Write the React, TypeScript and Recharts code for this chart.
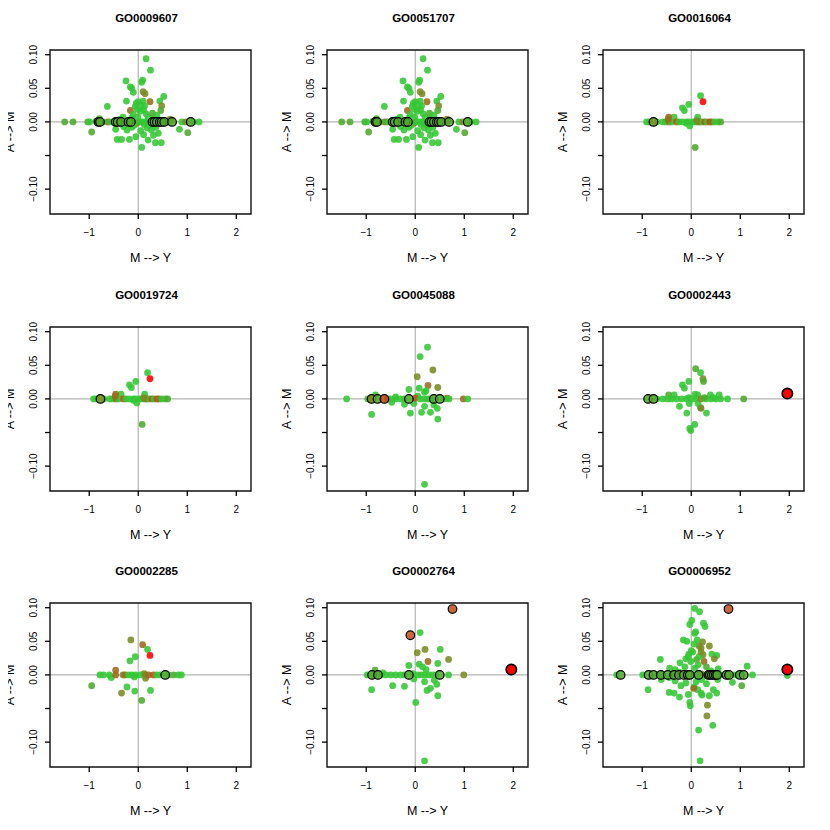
import React from 'react';
import { ScatterChart, Scatter, XAxis, YAxis, ReferenceLine, ReferenceArea } from 'recharts';

type Pt = [number, number, string];

const xTicks = [-1, 0, 1, 2];
const yTicks = [-0.1, -0.05, 0, 0.05, 0.1];
const xDomain = [-1.8, 2.3];
const yDomain = [-0.137, 0.107];

// panels 1 & 2
const dotsA: Pt[] = [
  [0.16, 0.094, 'g'], [0.25, 0.077, 'g'], [-0.25, 0.061, 'g'], [0.09, 0.062, 'g'], [0.07, 0.059, 'g'],
  [-0.16, 0.052, 'g'], [-0.13, 0.05, 'g'], [-0.1, 0.044, 'g'], [0.1, 0.045, 'o'], [0.14, 0.042, 'o'],
  [0.52, 0.038, 'g'], [-0.24, 0.031, 'g'], [-0.04, 0.028, 'g'], [0.0, 0.03, 'g'], [0.1, 0.031, 'g'],
  [0.24, 0.03, 'b'], [0.44, 0.031, 'g'], [0.48, 0.024, 'o'], [0.46, 0.017, 'l'], [-0.16, 0.017, 'b'],
  [-0.63, 0.023, 'g'], [-0.06, 0.023, 'g'], [0.04, 0.016, 'g'], [0.11, 0.018, 'g'], [0.16, 0.012, 'g'],
  [-0.1, 0.011, 'g'], [-0.01, 0.007, 'g'], [0.2, 0.007, 'g'], [-0.31, 0.007, 'g'], [-0.37, 0.004, 'g'],
  [-0.13, 0.006, 'g'], [0.3, 0.005, 'g'], [0.65, 0.004, 'o'], [0.29, 0.013, 'l'], [0.38, 0.01, 'g'],
  [-0.79, 0.005, 'l'], [0.06, 0.025, 'g'], [-0.02, 0.019, 'g'], [0.13, 0.024, 'g'],
  [-0.95, -0.015, 'l'], [-0.46, -0.011, 'g'], [-0.23, -0.012, 'g'], [-0.43, -0.026, 'g'], [-0.34, -0.026, 'g'],
  [-0.18, -0.026, 'g'], [-0.05, -0.022, 'g'], [0.07, -0.038, 'g'], [0.11, -0.019, 'g'], [0.2, -0.027, 'g'],
  [0.31, -0.02, 'g'], [0.35, -0.031, 'g'], [0.47, -0.031, 'g'], [0.41, -0.017, 'g'], [0.84, -0.011, 'g'],
  [1.01, -0.016, 'l'], [0.18, -0.009, 'g'], [0.05, -0.013, 'g'], [0.27, -0.012, 'g'], [0.36, -0.008, 'g'],
  [-0.13, -0.008, 'g'], [-0.3, -0.007, 'g'], [0.12, -0.004, 'g'], [-0.03, -0.002, 'r'], [-0.08, -0.005, 'g'],
  [0.24, -0.005, 'g'],
  [-1.5, 0, 'l'], [-1.33, 0, 'l'], [-1.03, 0, 'l'], [-0.99, 0, 'g'], [-0.62, 0, 'r'], [0.89, 0, 'g'],
  [0.97, 0, 'o'], [1.24, 0, 'g'], [1.13, 0, 'g'], [0.14, 0, 'g'], [0.04, 0, 'g'], [0.21, 0, 'g'],
  [-0.57, 0, 'g'], [-0.71, 0, 'g'], [-0.27, 0, 'g'], [-0.09, 0, 'g'], [0.08, 0, 'g'], [0.6, 0, 'g'],
  [0.67, 0.002, 'b'], [-0.86, 0.001, 'l'],
];
const ringsA: Pt[] = [
  [-0.81, 0, 'l'], [-0.78, 0, 'l'], [-0.46, 0, 'l'], [-0.42, 0, 'l'], [-0.35, 0, 'l'], [-0.2, 0, 'l'],
  [-0.15, 0, 'l'], [0.29, 0, 'l'], [0.33, 0, 'l'], [0.38, 0, 'l'], [0.44, 0, 'l'], [0.48, 0, 'l'],
  [0.53, 0, 'l'], [0.69, 0, 'l'], [1.07, 0, 'l'],
];

// panels 3 & 4
const dotsB: Pt[] = [
  [0.19, 0.039, 'g'], [0.24, 0.03, 'R'], [-0.05, 0.026, 'g'], [-0.18, 0.021, 'g'], [-0.14, 0.017, 'g'],
  [-0.35, 0.007, 'g'], [-0.46, 0.007, 'b'], [0.13, 0.007, 'g'], [0.08, -0.038, 'l'], [-0.03, -0.006, 'g'],
  [-0.1, -0.002, 'g'],
  [-0.91, 0, 'g'], [-0.85, 0, 'g'], [-0.7, 0, 'g'], [-0.58, 0, 'g'], [-0.52, 0, 'g'], [-0.45, 0, 'b'],
  [-0.4, 0, 'g'], [-0.3, 0, 'r'], [-0.25, 0, 'g'], [-0.18, 0, 'g'], [-0.1, 0, 'g'], [-0.05, 0, 'g'],
  [0.02, 0, 'g'], [0.08, 0, 'g'], [0.14, 0, 'o'], [0.18, 0, 'b'], [0.22, 0, 'g'], [0.28, 0, 'r'],
  [0.32, 0, 'g'], [0.38, 0, 'r'], [0.42, 0, 'b'], [0.48, 0, 'g'], [0.55, 0, 'g'], [0.6, 0, 'l'],
  [-0.47, 0.004, 'b'], [0.11, 0.002, 'o'],
];
const ringsB: Pt[] = [[-0.77, 0, 'o']];

// panel 5
const dotsC: Pt[] = [
  [0.25, 0.077, 'g'], [0.1, 0.063, 'g'], [0.36, 0.043, 'o'], [0.04, 0.033, 'o'], [0.26, 0.02, 'b'],
  [0.08, 0.016, 'g'], [0.46, 0.017, 'o'], [-0.13, 0.014, 'g'], [0.19, 0.01, 'g'], [0.22, 0.012, 'g'],
  [-0.81, 0.006, 'g'], [-0.4, 0.003, 'g'], [-0.89, -0.023, 'g'], [-0.1, -0.021, 'g'], [0.13, -0.02, 'g'],
  [0.31, -0.02, 'g'], [0.45, -0.014, 'g'], [0.19, -0.011, 'g'], [0.38, -0.009, 'g'], [0.46, -0.03, 'g'],
  [0.19, -0.127, 'g'], [-0.22, -0.008, 'g'], [-0.48, -0.005, 'g'], [-0.03, -0.007, 'g'], [0.35, -0.002, 'g'],
  [0.05, 0.004, 'g'],
  [-1.4, 0, 'g'], [-0.97, 0, 'g'], [-0.93, 0, 'b'], [-0.57, 0, 'r'], [-0.5, 0, 'g'], [-0.4, 0, 'g'],
  [-0.3, 0, 'g'], [-0.22, 0, 'g'], [0.0, 0.001, 'r'], [0.1, 0, 'g'], [0.18, 0, 'g'], [0.25, 0, 'g'],
  [0.3, 0, 'g'], [0.65, 0.001, 'b'], [0.98, 0, 'b'], [1.07, 0, 'g'], [0.69, 0, 'g'], [0.58, 0, 'g'],
];
const ringsC: Pt[] = [
  [-0.89, 0, 'o'], [-0.77, 0, 'l'], [-0.63, 0, 'r'], [-0.13, 0, 'l'], [0.38, 0, 'l'], [0.5, 0, 'l'],
];

// panel 6
const dotsD: Pt[] = [
  [0.09, 0.045, 'l'], [0.19, 0.039, 'g'], [0.24, 0.03, 'o'], [0.25, 0.026, 'l'], [-0.05, 0.026, 'g'],
  [-0.18, 0.021, 'g'], [-0.14, 0.016, 'g'], [-0.35, 0.006, 'g'], [-0.46, 0.006, 'l'], [0.13, 0.006, 'g'],
  [0.39, 0.006, 'g'], [0.57, 0.006, 'g'], [0.08, 0.007, 'g'], [-0.24, -0.011, 'g'], [-0.09, -0.021, 'g'],
  [0.31, -0.021, 'g'], [0.19, -0.013, 'l'], [0.07, -0.038, 'g'], [-0.01, -0.047, 'g'], [-0.03, -0.044, 'g'],
  [-0.04, -0.007, 'g'], [0.14, -0.007, 'g'], [0.2, -0.014, 'o'],
  [-0.58, 0, 'g'], [-0.48, 0, 'g'], [-0.4, 0, 'g'], [-0.3, 0, 'g'], [-0.2, 0, 'g'], [-0.1, 0, 'g'],
  [0.0, 0, 'g'], [0.1, 0, 'g'], [0.2, 0, 'o'], [0.3, 0, 'g'], [0.4, 0, 'g'], [0.5, 0, 'g'], [0.6, 0, 'g'],
  [0.74, 0, 'g'], [1.07, 0, 'l'], [-0.7, 0, 'g'], [0.27, 0.002, 'l'], [-0.05, 0.002, 'g'], [0.45, 0.002, 'g'],
];
const ringsD: Pt[] = [[-0.88, 0, 'l'], [-0.77, 0, 'l']];

// panel 7
const dotsE: Pt[] = [
  [-0.15, 0.052, 'o'], [0.09, 0.045, 'b'], [0.19, 0.038, 'g'], [0.24, 0.029, 'R'], [-0.06, 0.027, 'g'],
  [-0.17, 0.021, 'g'], [-0.46, 0.007, 'b'], [0.15, -0.005, 'o'], [-0.95, -0.016, 'l'], [-0.23, -0.018, 'g'],
  [-0.34, -0.027, 'o'], [-0.07, -0.024, 'g'], [0.25, -0.023, 'g'], [0.07, -0.038, 'l'], [-0.55, -0.004, 'g'],
  [-0.08, -0.003, 'g'], [0.12, 0.002, 'o'],
  [-0.78, 0, 'g'], [-0.71, 0, 'g'], [-0.59, 0, 'g'], [-0.46, 0, 'b'], [-0.31, 0, 'o'], [-0.27, 0, 'b'],
  [-0.2, 0, 'g'], [-0.13, 0, 'g'], [-0.06, 0, 'g'], [0.04, 0, 'g'], [0.14, 0, 'o'], [0.21, 0, 'b'],
  [0.31, 0, 'r'], [0.38, 0, 'g'], [0.72, 0, 'l'], [0.82, 0, 'g'], [0.88, 0, 'g'], [0.45, 0, 'g'], [0.62, 0, 'g'],
];
const ringsE: Pt[] = [[0.55, 0, 'l']];

// panel 8
const dotsF: Pt[] = [
  [0.1, 0.063, 'g'], [0.04, 0.033, 'o'], [0.2, 0.038, 'o'], [0.51, 0.038, 'g'], [0.26, 0.02, 'b'],
  [0.68, 0.023, 'o'], [0.08, 0.016, 'g'], [0.46, 0.017, 'g'], [-0.13, 0.014, 'g'], [0.22, 0.008, 'g'],
  [0.15, 0.012, 'g'], [-0.89, -0.022, 'g'], [-0.46, -0.016, 'g'], [-0.22, -0.017, 'g'], [0.19, -0.01, 'g'],
  [0.24, -0.023, 'g'], [0.31, -0.02, 'g'], [0.39, -0.008, 'g'], [0.44, -0.014, 'g'], [0.46, -0.031, 'g'],
  [0.01, -0.041, 'g'], [0.19, -0.128, 'g'], [-0.03, -0.006, 'g'], [-0.82, 0.007, 'l'], [-0.66, 0.003, 'g'],
  [-0.98, 0, 'g'], [-0.85, 0, 'l'], [-0.7, 0, 'g'], [-0.6, 0, 'g'], [-0.5, 0, 'g'], [-0.4, 0, 'g'],
  [-0.3, 0, 'g'], [-0.22, 0, 'g'], [0.05, 0, 'g'], [0.12, 0, 'g'], [0.2, 0, 'g'], [0.28, 0, 'g'],
  [0.35, 0, 'g'], [0.42, 0, 'g'], [0.68, 0, 'g'], [0.99, 0, 'o'], [-0.05, 0.002, 'g'],
];
const ringsF: Pt[] = [
  [-0.88, 0, 'l'], [-0.76, 0, 'l'], [-0.13, 0, 'l'], [0.5, 0, 'l'], [-0.1, 0.059, 'r'], [0.76, 0.098, 'r'],
];

// panel 9
const dotsG: Pt[] = [
  [0.07, 0.099, 'g'], [0.17, 0.094, 'g'], [0.01, 0.081, 'g'], [-0.03, 0.075, 'g'], [0.25, 0.077, 'g'],
  [0.28, 0.072, 'g'], [0.07, 0.062, 'g'], [0.09, 0.064, 'g'], [-0.16, 0.052, 'g'], [-0.09, 0.05, 'g'],
  [0.23, 0.049, 'o'], [0.16, 0.043, 'o'], [0.2, 0.04, 'o'], [0.37, 0.043, 'o'], [0.06, 0.046, 'g'],
  [0.0, 0.036, 'g'], [0.03, 0.034, 'g'], [0.42, 0.031, 'g'], [0.52, 0.029, 'g'], [0.24, 0.03, 'o'],
  [0.47, 0.024, 'o'], [0.26, 0.02, 'b'], [-0.63, 0.023, 'g'], [-0.23, 0.018, 'g'], [-0.11, 0.024, 'g'],
  [-0.06, 0.027, 'g'], [-0.01, 0.02, 'g'], [0.11, 0.023, 'l'], [0.16, 0.027, 'g'], [1.14, 0.013, 'g'],
  [-0.44, 0.01, 'g'], [-0.33, 0.008, 'g'], [-0.13, 0.012, 'g'], [0.07, 0.01, 'g'], [0.31, 0.012, 'l'],
  [0.55, 0.009, 'g'], [0.14, 0.015, 'g'], [-0.05, 0.031, 'g'], [0.2, 0.034, 'o'], [0.12, 0.052, 'g'],
  [-0.25, 0.004, 'g'], [0.4, 0.006, 'g'],
  [-0.88, -0.022, 'g'], [-0.45, -0.026, 'g'], [-0.35, -0.027, 'g'], [-0.24, -0.033, 'g'], [-0.06, -0.029, 'g'],
  [-0.02, -0.046, 'g'], [-0.03, -0.041, 'g'], [0.06, -0.018, 'g'], [0.13, -0.022, 'g'], [0.2, -0.027, 'g'],
  [0.22, -0.03, 'g'], [0.37, -0.031, 'g'], [0.52, -0.027, 'g'], [0.45, -0.022, 'g'], [0.84, -0.011, 'g'],
  [1.03, -0.016, 'l'], [0.33, -0.045, 'o'], [0.32, -0.061, 'o'], [0.44, -0.075, 'g'], [0.15, -0.082, 'g'],
  [0.18, -0.128, 'g'], [0.05, -0.02, 'b'], [-0.21, -0.016, 'g'], [-0.11, -0.012, 'g'], [0.31, -0.013, 'g'],
  [-0.33, -0.009, 'g'], [0.21, -0.007, 'g'], [-0.61, -0.007, 'g'], [0.54, -0.007, 'g'], [1.96, -0.001, 'g'],
  [-0.45, -0.004, 'g'], [0.1, -0.01, 'g'],
  [-1.52, 0, 'g'], [-0.99, 0, 'g'], [-0.62, 0, 'r'], [-0.58, 0, 'g'], [-0.4, 0, 'g'], [-0.3, 0, 'g'],
  [-0.2, 0, 'g'], [-0.11, 0, 'g'], [0.05, 0, 'g'], [0.1, 0, 'g'], [0.24, 0, 'g'], [0.29, 0, 'g'],
  [0.62, 0, 'g'], [0.88, 0, 'g'], [0.95, 0, 'g'], [1.25, 0, 'g'], [-0.69, 0, 'g'], [0.2, 0.002, 'o'],
];
const ringsG: Pt[] = [
  [-1.44, 0, 'l'], [-0.87, 0, 'l'], [-0.77, 0, 'l'], [-0.62, 0, 'l'], [-0.48, 0, 'l'], [-0.35, 0, 'l'],
  [-0.25, 0, 'l'], [-0.15, 0, 'l'], [-0.07, 0, 'l'], [-0.03, 0, 'l'], [0.15, 0, 'l'], [0.35, 0, 'l'],
  [0.38, 0, 'l'], [0.42, 0, 'l'], [0.46, 0, 'l'], [0.5, 0, 'l'], [0.53, 0, 'l'], [0.72, 0, 'l'],
  [0.77, 0, 'l'], [0.99, 0, 'l'], [1.07, 0, 'l'], [0.76, 0.098, 'r'],
];

const outlier: Pt[] = [[1.96, 0.008, 'R']];

const palette: Record<string, string> = {
  g: '#34c634',
  l: '#4fa82c',
  o: '#7b8a22',
  b: '#9c6a1c',
  r: '#c04c18',
  R: '#ff0000',
};

const panels = [
  { title: 'GO0009607', dots: dotsA, rings: ringsA, big: [] as Pt[] },
  { title: 'GO0051707', dots: dotsA, rings: ringsA, big: [] as Pt[] },
  { title: 'GO0016064', dots: dotsB, rings: ringsB, big: [] as Pt[] },
  { title: 'GO0019724', dots: dotsB, rings: ringsB, big: [] as Pt[] },
  { title: 'GO0045088', dots: dotsC, rings: ringsC, big: [] as Pt[] },
  { title: 'GO0002443', dots: dotsD, rings: ringsD, big: outlier },
  { title: 'GO0002285', dots: dotsE, rings: ringsE, big: [] as Pt[] },
  { title: 'GO0002764', dots: dotsF, rings: ringsF, big: outlier },
  { title: 'GO0006952', dots: dotsG, rings: ringsG, big: outlier },
];

const FONT = '"Liberation Sans", Arial, Helvetica, sans-serif';
const SIZE = 277;
const STEP = 830 / 3;

const rows = (pts: Pt[]) => pts.map(([x, y, c]) => ({ x, y, c }));
const minus = (s: string) => s.replace('-', '\u2212');

const Dot = (p: any) => (
  <circle cx={p.cx} cy={p.cy} r={3.4} fill={palette[p.payload.c]} fillOpacity={0.88} />
);
const Ring = (p: any) => (
  <circle cx={p.cx} cy={p.cy} r={4.3} fill={palette[p.payload.c]} fillOpacity={0.85} stroke="#000" strokeWidth={1.2} />
);
const Big = (p: any) => (
  <circle cx={p.cx} cy={p.cy} r={5.2} fill={palette[p.payload.c]} stroke="#000" strokeWidth={1.6} />
);

const YTick = (p: any) => {
  const v = p.payload.value;
  if (Math.abs(v + 0.05) < 1e-9) return <g />;
  return (
    <text x={p.x} y={p.y} transform={`rotate(-90 ${p.x} ${p.y})`} textAnchor="middle" fontSize={10} fontFamily={FONT} fill="#000">
      {minus(v.toFixed(2))}
    </text>
  );
};

// y axis title, drawn inside the svg next to the axis
const YTitle = (p: any) => {
  const vb = p.viewBox || {};
  const x = (vb.x ?? 0) + 13.5;
  const y = (vb.y ?? 50) + (vb.height ?? 164) / 2;
  return (
    <text x={x} y={y} transform={`rotate(-90 ${x} ${y})`} textAnchor="middle" fontSize={12.5} fontFamily={FONT} fill="#000">
      {'A --> M'}
    </text>
  );
};

const Panel = ({ title, dots, rings, big }: { title: string; dots: Pt[]; rings: Pt[]; big: Pt[] }) => (
  <div style={{ position: 'relative', width: SIZE, height: SIZE }}>
    <ScatterChart width={SIZE} height={SIZE} margin={{ top: 50, right: 26, bottom: 23, left: 0 }}>
      <XAxis
        type="number" dataKey="x" domain={xDomain} ticks={xTicks} allowDataOverflow height={40}
        tickSize={5} tickMargin={10} axisLine={false} tickLine={{ stroke: '#000', strokeWidth: 1.3 }}
        tickFormatter={(v: number) => minus(String(v))}
        tick={{ fontSize: 10, fontFamily: FONT, fill: '#000' }}
      />
      <YAxis
        type="number" dataKey="y" domain={yDomain} ticks={yTicks} allowDataOverflow width={50}
        tickSize={5} tickMargin={8} axisLine={false} tickLine={{ stroke: '#000', strokeWidth: 1.3 }} tick={<YTick />}
        label={<YTitle />}
      />
      <ReferenceLine x={0} stroke="#b4b4b4" strokeWidth={1.2} zIndex={-10} />
      <ReferenceLine y={0} stroke="#b4b4b4" strokeWidth={1.2} zIndex={-10} />
      <Scatter data={rows(dots)} shape={Dot} isAnimationActive={false} />
      <Scatter data={rows(rings)} shape={Ring} isAnimationActive={false} />
      <Scatter data={rows(big)} shape={Big} isAnimationActive={false} />
      <ReferenceArea
        x1={xDomain[0]} x2={xDomain[1]} y1={yDomain[0]} y2={yDomain[1]}
        fill="none" fillOpacity={0} stroke="#111" strokeWidth={1.4} ifOverflow="visible"
      />
    </ScatterChart>
    <div style={{ position: 'absolute', left: 46, width: 201, top: 11, textAlign: 'center', fontWeight: 'bold', fontSize: 11.5, lineHeight: '14px' }}>
      {title}
    </div>
    <div style={{ position: 'absolute', left: 50, width: 201, top: 251, textAlign: 'center', fontSize: 12.5, lineHeight: '14px' }}>
      {'M --> Y'}
    </div>
  </div>
);

export default function App() {
  return (
    <div style={{ position: 'relative', width: 830, height: 830, margin: -8, background: '#fff', fontFamily: FONT, color: '#000' }}>
      {panels.map((p, i) => (
        <div key={p.title} style={{ position: 'absolute', left: Math.round((i % 3) * STEP), top: Math.round(Math.floor(i / 3) * STEP) }}>
          <Panel {...p} />
        </div>
      ))}
    </div>
  );
}
